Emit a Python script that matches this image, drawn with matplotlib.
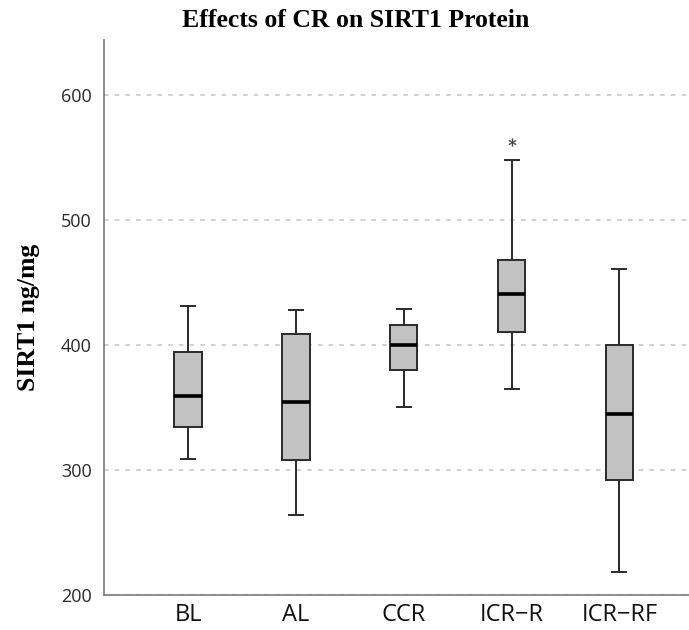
import matplotlib.pyplot as plt

groups = ["BL", "AL", "CCR", "ICR\u2212R", "ICR\u2212RF"]
whisker_low = [309, 264, 350, 365, 218]
q1 = [334, 308, 380, 410, 292]
median = [359, 354, 400, 441, 345]
q3 = [394, 409, 416, 468, 400]
whisker_high = [431, 428, 429, 548, 461]
extremes = [[], [], [], [562], []]

y_ticks = [200, 300, 400, 500, 600]

stats = []
for i, name in enumerate(groups):
    stats.append({
        "label": name,
        "whislo": whisker_low[i],
        "q1": q1[i],
        "med": median[i],
        "q3": q3[i],
        "whishi": whisker_high[i],
        "fliers": extremes[i],
    })

fig = plt.figure(figsize=(6.89, 6.30), dpi=100)
ax = fig.add_axes([0.151, 0.0556, 0.849, 0.881])

ax.bxp(
    stats,
    positions=range(1, len(groups) + 1),
    widths=0.255,
    capwidths=0.13,
    patch_artist=True,
    boxprops=dict(facecolor="#c2c2c2", edgecolor="#2a2a2a", linewidth=1.4),
    medianprops=dict(color="black", linewidth=2.6),
    whiskerprops=dict(color="#2a2a2a", linewidth=1.4),
    capprops=dict(color="#2a2a2a", linewidth=1.4),
    flierprops=dict(marker="$*$", markersize=5.5, markerfacecolor="#444444",
                    markeredgecolor="#444444", markeredgewidth=0.3, linestyle="none"),
    zorder=3,
)

ax.set_xlim(0.221, 5.645)
ax.set_ylim(200, 644)
ax.set_yticks(y_ticks)
ax.yaxis.grid(True, linestyle=(0, (3, 4)), color="#c4c4c4", linewidth=1.1)
ax.set_axisbelow(True)

for side in ["top", "right"]:
    ax.spines[side].set_visible(False)
for side in ["left", "bottom"]:
    ax.spines[side].set_color("#7a7a7a")
    ax.spines[side].set_linewidth(1.2)

ax.tick_params(axis="both", length=0)
ax.tick_params(axis="y", pad=9, labelsize=13, labelcolor="#2a2a2a")
ax.tick_params(axis="x", pad=6, labelsize=17, labelcolor="#111111")
for lbl in ax.get_xticklabels() + ax.get_yticklabels():
    lbl.set_fontfamily("Open Sans")

fig.text(0.516, 0.968, "Effects of CR on SIRT1 Protein", ha="center", va="center",
         fontsize=18.5, fontweight="bold", family="Liberation Serif")
fig.text(0.041, 0.497, "SIRT1 ng/mg", ha="center", va="center", rotation=90,
         fontsize=18.5, fontweight="bold", family="Liberation Serif")

fig.savefig("out.png", dpi=100)
